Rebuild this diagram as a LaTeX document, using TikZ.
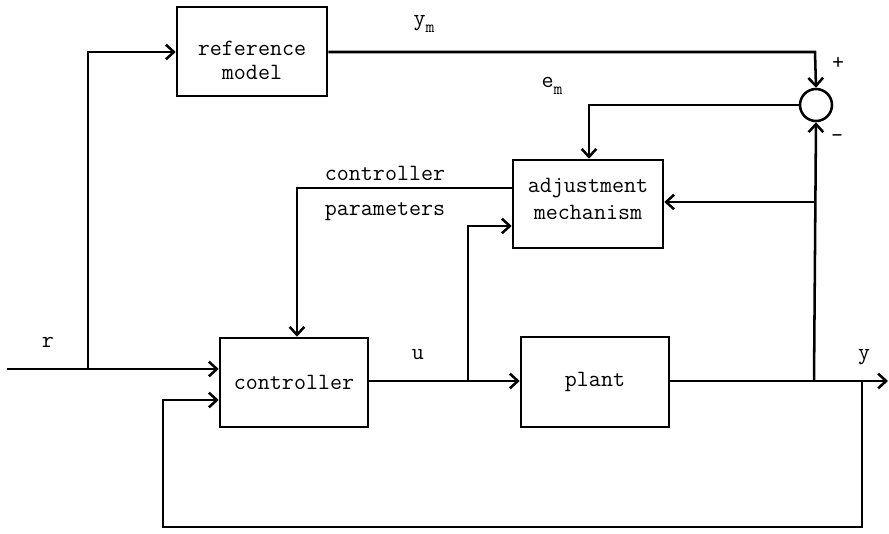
\documentclass[tikz,border=0pt]{standalone}
\usepackage{fontspec}
\setmonofont{Latin Modern Mono}
\usetikzlibrary{arrows.meta}
\newcommand{\subm}{\raisebox{-5pt}{\fontsize{13pt}{13pt}\selectfont m}}
\begin{document}
\begin{tikzpicture}[x=0.75pt,y=-0.75pt,
  line width=1.9pt,
  font=\ttfamily\fontsize{17.5pt}{22pt}\selectfont,
  blk/.style={draw,rectangle,inner sep=0pt,align=center,line width=1.9pt},
  sumnode/.style={draw,circle,inner sep=0pt,minimum size=24pt,line width=1.9pt},
  arr/.style={-{Straight Barb[length=6pt,width=11pt,line width=1.9pt]}},
  lbl/.style={inner sep=0pt}]
\useasboundingbox (0,0) rectangle (889,533);
% blocks
\node[blk,minimum width=112.5pt,minimum height=66.75pt] (refm) at (252,51.5) {};
\node[lbl] (refmt) at (252,48) {reference};
\node[lbl] (refmt2) at (252,72) {model};
\node[blk,minimum width=112.5pt,minimum height=66pt] (adj) at (588,204) {};
\node[lbl] (adjt) at (588,188) {adjustment};
\node[lbl] (adjt2) at (588,212) {mechanism};
\node[blk,minimum width=111pt,minimum height=66.75pt] (ctrl) at (294,382.5) {controller};
\node[blk,minimum width=111pt,minimum height=67.5pt] (plant) at (595,382) {plant};
\node[sumnode] (sum) at (816,105) {};
% coordinates
\coordinate (rin) at (7,369);
\coordinate (rb) at (88,369);
\coordinate (rt) at (88,52);
\coordinate (ymc) at (815,52);
\coordinate (emc) at (589,105);
\coordinate (ub) at (468,381);
\coordinate (ut) at (468,226);
\coordinate (yb) at (814,381);
\coordinate (ya) at (814,202);
\coordinate (yout) at (888,381);
\coordinate (fb1) at (862,381);
\coordinate (fb2) at (862,527);
\coordinate (fb3) at (163,527);
\coordinate (fb4) at (163,400);
\coordinate (cp1) at (297,188);
% connectors
\draw[arr] (rin) -- (ctrl.west |- rin);
\draw[arr] (rb) -- (rt) -- (refm.west |- rt);
\draw[arr] (refm.east |- ymc) -- (ymc) -- (sum.north);
\draw[arr] (sum.west) -- (emc) -- (adj.north -| emc);
\draw[arr] (ctrl.east |- ub) -- (plant.west |- ub);
\draw[arr] (ub) -- (ut) -- (adj.west |- ut);
\draw[arr] (plant.east |- yout) -- (yout);
\draw[arr] (yb) -- (sum.south);
\draw[arr] (ya) -- (adj.east |- ya);
\draw[arr] (fb1) -- (fb2) -- (fb3) -- (fb4) -- (ctrl.west |- fb4);
\draw[arr] (adj.west |- cp1) -- (cp1) -- (ctrl.north -| cp1);
% labels
\node[lbl] (lr) at (48,342) {r};
\node[lbl] (lym) at (424,24) {y\subm};
\node[lbl] (lem) at (552,86) {e\subm};
\node[lbl] (lp) at (838,63) {+};
\node[lbl] (lm) at (837,139) {-};
\node[lbl] (lc) at (385,173) {controller};
\node[lbl] (lpar) at (385,212) {parameters};
\node[lbl] (lu) at (418,355) {u};
\node[lbl] (ly) at (864,357) {y};
\end{tikzpicture}
\end{document}
